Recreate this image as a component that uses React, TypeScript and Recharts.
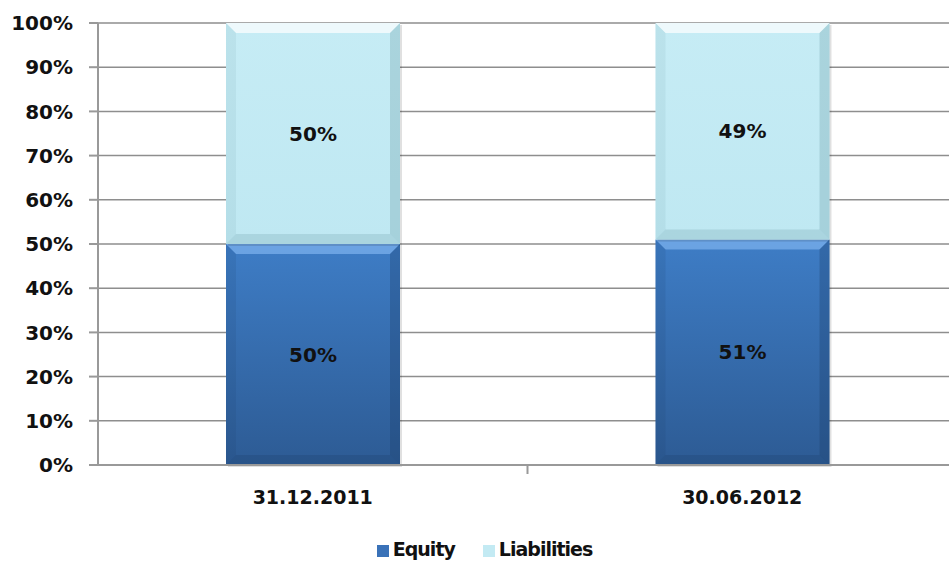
import { Bar, BarChart, CartesianGrid, LabelList, Legend, XAxis, YAxis } from 'recharts'

const periods = ['31.12.2011', '30.06.2012']
const equity = [50, 51]
const liabilities = [50, 49]
const yTicks = [0, 10, 20, 30, 40, 50, 60, 70, 80, 90, 100]

const data = periods.map((p, i) => ({ period: p, equity: equity[i], liabilities: liabilities[i] }))

const font = "'DejaVu Sans', Verdana, sans-serif"
const labelStyle = { fontFamily: font, fontWeight: 'bold', fontSize: 20, fill: '#111' }

function BevelBar(props: any) {
  const { x, y, width, height, fill, edgeLight, edgeDark } = props
  if (!height || height <= 0) return null
  const b = 10
  return (
    <g>
      <rect x={x + 2} y={y + 2} width={width} height={height} fill="#000" opacity={0.12} />
      <rect x={x} y={y} width={width} height={height} fill={fill} />
      <polygon points={`${x},${y} ${x + width},${y} ${x + width - b},${y + b} ${x + b},${y + b}`} fill={edgeLight} opacity={0.7} />
      <polygon points={`${x + width},${y} ${x + width},${y + height} ${x + width - b},${y + height - b} ${x + width - b},${y + b}`} fill={edgeDark} opacity={0.3} />
      <polygon points={`${x},${y} ${x},${y + height} ${x + b},${y + height - b} ${x + b},${y + b}`} fill={edgeDark} opacity={0.12} />
      <polygon points={`${x},${y + height} ${x + width},${y + height} ${x + width - b},${y + height - b} ${x + b},${y + height - b}`} fill={edgeDark} opacity={0.25} />
    </g>
  )
}

function PeriodTick(props: any) {
  const { x, y, payload, index } = props
  return (
    <g>
      <text x={x} y={y + 31} textAnchor="middle" fontFamily={font} fontWeight="bold" fontSize={19} fill="#111">
        {payload.value}
      </text>
      {index === 0 && payload.offset ? (
        <line x1={x + payload.offset} x2={x + payload.offset} y1={y - 8} y2={y + 1} stroke="#999" strokeWidth={2} />
      ) : null}
    </g>
  )
}

export default function App() {
  return (
    <div style={{ position: 'absolute', left: 0, top: 0, width: 949, height: 566, overflow: 'hidden', background: '#fff' }}>
      <BarChart width={957} height={566} data={data} margin={{ top: 23, right: 0, bottom: 0, left: 0 }}>
        <defs>
          <linearGradient id="eqGrad" x1="0" y1="0" x2="0" y2="1">
            <stop offset="0%" stopColor="#3e7dc6" />
            <stop offset="100%" stopColor="#2d5b94" />
          </linearGradient>
          <linearGradient id="liGrad" x1="0" y1="0" x2="0" y2="1">
            <stop offset="0%" stopColor="#c6ecf5" />
            <stop offset="100%" stopColor="#bfe8f2" />
          </linearGradient>
        </defs>
        <CartesianGrid vertical={false} stroke="#8e8e8e" strokeWidth={1.5} />
        <XAxis
          dataKey="period"
          height={56}
          stroke="#999"
          strokeWidth={2}
          tickLine={false}
          tick={<PeriodTick />}
        />
        <YAxis
          width={98}
          domain={[0, 100]}
          ticks={yTicks}
          tickFormatter={(v) => `${v}%`}
          stroke="#999"
          strokeWidth={2}
          tickSize={9}
          tickMargin={16}
          tick={labelStyle}
          interval={0}
        />
        <Legend
          verticalAlign="bottom"
          height={45}
          iconType="square"
          iconSize={12}
          wrapperStyle={{ left: 20, top: 538, fontFamily: font, fontWeight: 'bold', fontSize: 19, letterSpacing: -1 }}
          formatter={(v) => <span style={{ color: '#111', marginRight: 18 }}>{v}</span>}
        />
        <Bar
          dataKey="equity"
          name="Equity"
          stackId="a"
          barSize={174}
          fill="#3a72b8"
          isAnimationActive={false}
          shape={(p: any) => <BevelBar {...p} fill="url(#eqGrad)" edgeLight="#7fb4f0" edgeDark="#1c3c66" />}
        >
          <LabelList dataKey="equity" position="center" formatter={(v: any) => `${v}%`} style={labelStyle} />
        </Bar>
        <Bar
          dataKey="liabilities"
          name="Liabilities"
          stackId="a"
          barSize={174}
          fill="#c3eaf3"
          isAnimationActive={false}
          shape={(p: any) => <BevelBar {...p} fill="url(#liGrad)" edgeLight="#ffffff" edgeDark="#6a9aa6" />}
        >
          <LabelList dataKey="liabilities" position="center" formatter={(v: any) => `${v}%`} style={labelStyle} />
        </Bar>
      </BarChart>
    </div>
  )
}
